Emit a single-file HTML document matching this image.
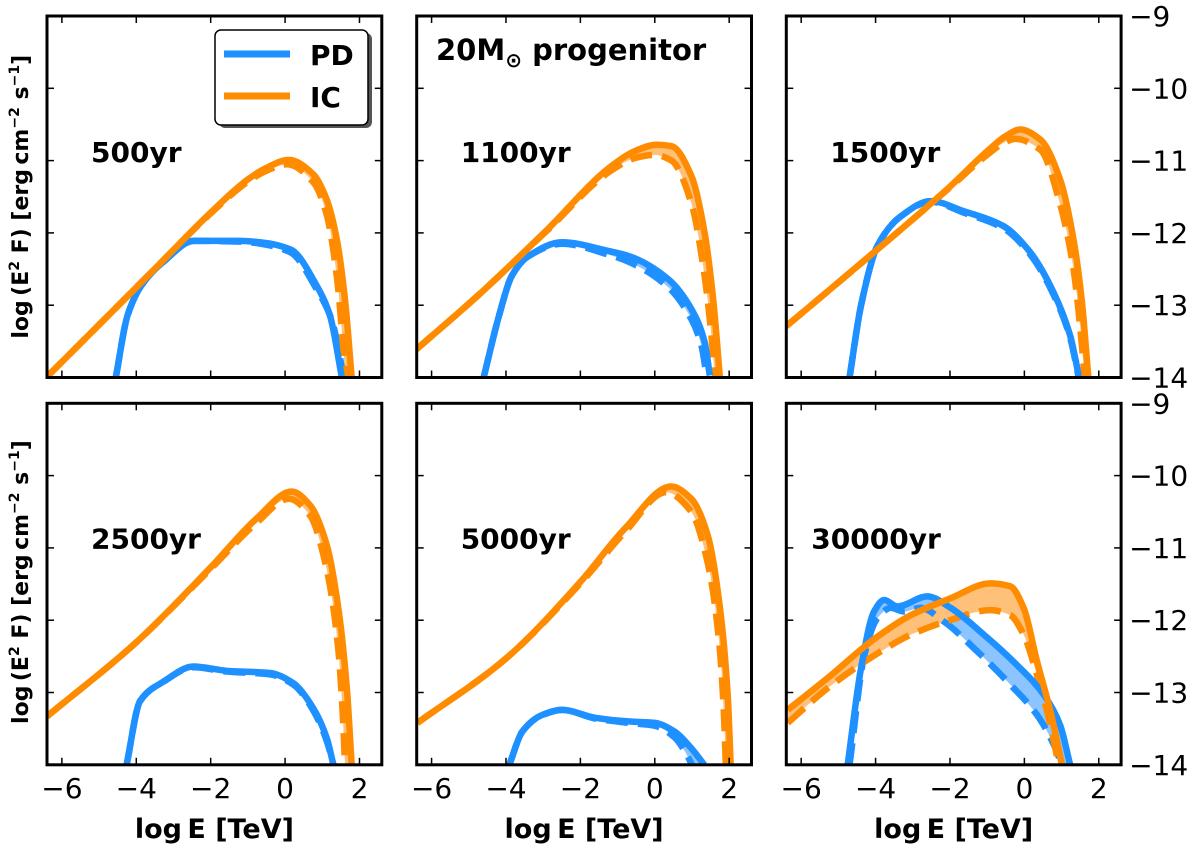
<!DOCTYPE html>
<html><head><meta charset="utf-8"><style>
html,body{margin:0;padding:0;background:#fff}
svg{display:block;font-family:"DejaVu Sans","Liberation Sans",sans-serif}
</style></head><body>
<svg id="fig" width="1200" height="847" viewBox="0 0 1200 847" xmlns="http://www.w3.org/2000/svg"></svg>
<script>
// ---- data (log E [TeV], log E^2F) ----
const xTicks = [-6, -4, -2, 0, 2];
const yTicks = [-9, -10, -11, -12, -13, -14];
const panelLabels = ["500yr", "1100yr", "1500yr", "2500yr", "5000yr", "30000yr"];

const p1_ic_x = [-6.4,-4.69,-3.43,-2.0,-1.0,-0.5,0.1,0.76,1.12,1.39,1.61,1.79];
const p1_ic_y = [-13.99,-13.11,-12.46,-11.72,-11.26,-11.1,-10.99,-11.19,-11.54,-12.09,-12.92,-14.0];
const p1_icd_x = [-6.4,-4.69,-3.43,-2.0,-1.0,-0.5,0.05,0.76,1.12,1.39,1.55,1.62];
const p1_icd_y = [-13.99,-13.11,-12.46,-11.73,-11.29,-11.14,-11.05,-11.3,-11.75,-12.6,-13.5,-14.0];
const p1_pd_x = [-4.55,-4.24,-3.88,-3.25,-2.45,-1.21,-0.65,0.15,0.85,1.21,1.52];
const p1_pd_y = [-14,-13.15,-12.74,-12.39,-12.11,-12.11,-12.13,-12.23,-12.73,-13.15,-13.98];
const p1_pdd_x = [-4.55,-4.24,-3.88,-3.25,-2.45,-1.21,-0.65,0.15,0.85,1.25,1.58];
const p1_pdd_y = [-14,-13.15,-12.74,-12.39,-12.11,-12.12,-12.15,-12.27,-12.78,-13.2,-14];

const p2_ic_x = [-6.43,-4.74,-2.94,-1.15,-0.5,0.05,0.45,0.99,1.34,1.57,1.75];
const p2_ic_y = [-13.62,-12.86,-11.98,-11.07,-10.86,-10.78,-10.8,-11.22,-12.0,-12.92,-14];
const p2_icd_x = [-6.43,-4.74,-2.94,-1.15,-0.5,0.0,0.45,0.99,1.34,1.5,1.62];
const p2_icd_y = [-13.62,-12.86,-11.99,-11.13,-10.96,-10.92,-11.0,-11.6,-12.6,-13.3,-14];
const p2_pd_x = [-4.6,-4.19,-3.84,-3.39,-2.49,-1.25,-0.7,0.36,0.99,1.34,1.48];
const p2_pd_y = [-14,-13.15,-12.59,-12.32,-12.13,-12.25,-12.32,-12.64,-13.06,-13.51,-13.97];
const p2_pdd_x = [-4.6,-4.19,-3.84,-3.39,-2.49,-1.25,-0.7,0.36,0.99,1.25,1.4];
const p2_pdd_y = [-14,-13.15,-12.59,-12.32,-12.15,-12.3,-12.4,-12.75,-13.2,-13.55,-14];

const p3_ic_x = [-6.4,-4.0,-2.0,-1.0,-0.5,-0.11,0.43,0.96,1.32,1.54,1.72];
const p3_ic_y = [-13.29,-12.25,-11.36,-10.87,-10.66,-10.57,-10.71,-11.26,-12.09,-12.92,-14];
const p3_icd_x = [-6.4,-4.0,-2.0,-1.0,-0.5,-0.25,0.43,0.96,1.32,1.5,1.62];
const p3_icd_y = [-13.29,-12.25,-11.37,-10.92,-10.74,-10.7,-10.85,-11.6,-12.5,-13.3,-14];
const p3_pd_x = [-4.7,-4.39,-3.95,-3.32,-2.52,-1.63,-0.55,0.16,0.79,1.23,1.46];
const p3_pd_y = [-14,-13.0,-12.18,-11.77,-11.56,-11.7,-11.91,-12.27,-12.83,-13.42,-13.97];
const p3_pdd_x = [-4.7,-4.39,-3.95,-3.32,-2.52,-1.63,-0.55,0.16,0.79,1.23,1.46];
const p3_pdd_y = [-14,-13.0,-12.18,-11.77,-11.57,-11.72,-11.94,-12.3,-12.86,-13.45,-14];

const p4_ic_x = [-6.4,-4.03,-2.02,-0.76,0.18,0.67,1.12,1.43,1.66,1.79];
const p4_ic_y = [-13.33,-12.32,-11.28,-10.59,-10.22,-10.41,-10.96,-11.83,-12.94,-14];
const p4_icd_x = [-6.4,-4.03,-2.02,-0.76,0.1,0.67,1.12,1.43,1.55,1.61];
const p4_icd_y = [-13.33,-12.32,-11.3,-10.65,-10.32,-10.55,-11.3,-12.4,-13.3,-14];
const p4_pd_x = [-4.26,-3.9,-3.27,-2.46,-1.57,-0.4,0.22,0.76,1.12,1.3];
const p4_pd_y = [-14,-13.12,-12.85,-12.64,-12.7,-12.73,-12.87,-13.22,-13.63,-14];
const p4_pdd_x = [-4.26,-3.9,-3.27,-2.46,-1.57,-0.4,0.22,0.76,1.12,1.3];
const p4_pdd_y = [-14,-13.12,-12.85,-12.65,-12.71,-12.75,-12.89,-13.25,-13.67,-14];

const p5_ic_x = [-6.38,-4,-2,-0.8,0.44,0.98,1.42,1.73,1.96,2.04];
const p5_ic_y = [-13.42,-12.53,-11.47,-10.73,-10.15,-10.32,-10.82,-11.74,-13.03,-14];
const p5_icd_x = [-6.38,-4,-2,-0.8,0.3,0.98,1.42,1.73,1.85,1.91];
const p5_icd_y = [-13.42,-12.53,-11.49,-10.78,-10.23,-10.5,-11.2,-12.3,-13.2,-14];
const p5_pd_x = [-3.91,-3.56,-3.02,-2.49,-1.6,-0.71,0,0.53,0.98,1.33];
const p5_pd_y = [-14,-13.54,-13.31,-13.24,-13.35,-13.4,-13.42,-13.54,-13.77,-14];
const p5_pdd_x = [-3.91,-3.56,-3.02,-2.49,-1.6,-0.71,0,0.53,0.85,1.0];
const p5_pdd_y = [-14,-13.54,-13.31,-13.24,-13.36,-13.42,-13.46,-13.62,-13.85,-14];

const p6_ic_x = [-6.36,-5.29,-4.01,-3.05,-2,-0.91,-0.38,-0.02,0.34,0.7,1.01];
const p6_ic_y = [-13.24,-12.8,-12.25,-11.93,-11.7,-11.49,-11.53,-11.83,-12.57,-13.26,-14];
const p6_icd_x = [-6.36,-5.29,-4.01,-3.05,-2,-0.91,-0.38,-0.02,0.34,0.7,0.92];
const p6_icd_y = [-13.42,-12.94,-12.48,-12.2,-12.0,-11.86,-11.93,-12.2,-12.76,-13.45,-14];
const p6_pd_x = [-4.75,-4.39,-4.04,-3.77,-3.41,-2.61,-1.98,-1.09,-0.2,0.52,0.96,1.23];
const p6_pd_y = [-14,-12.66,-11.88,-11.72,-11.81,-11.67,-11.83,-12.2,-12.62,-13.03,-13.45,-14];
const p6_pdd_x = [-4.7,-4.3,-3.95,-3.59,-3.23,-2.79,-2.16,-1.27,-0.38,0.34,0.79,1.01];
const p6_pdd_y = [-14,-12.48,-11.97,-11.83,-11.88,-11.83,-12.02,-12.43,-12.89,-13.31,-13.72,-14];

const panels = [
  {ic:[p1_ic_x,p1_ic_y], icd:[p1_icd_x,p1_icd_y], pd:[p1_pd_x,p1_pd_y], pdd:[p1_pdd_x,p1_pdd_y]},
  {ic:[p2_ic_x,p2_ic_y], icd:[p2_icd_x,p2_icd_y], pd:[p2_pd_x,p2_pd_y], pdd:[p2_pdd_x,p2_pdd_y]},
  {ic:[p3_ic_x,p3_ic_y], icd:[p3_icd_x,p3_icd_y], pd:[p3_pd_x,p3_pd_y], pdd:[p3_pdd_x,p3_pdd_y]},
  {ic:[p4_ic_x,p4_ic_y], icd:[p4_icd_x,p4_icd_y], pd:[p4_pd_x,p4_pd_y], pdd:[p4_pdd_x,p4_pdd_y]},
  {ic:[p5_ic_x,p5_ic_y], icd:[p5_icd_x,p5_icd_y], pd:[p5_pd_x,p5_pd_y], pdd:[p5_pdd_x,p5_pdd_y]},
  {ic:[p6_ic_x,p6_ic_y], icd:[p6_icd_x,p6_icd_y], pd:[p6_pd_x,p6_pd_y], pdd:[p6_pdd_x,p6_pdd_y]}
];

// ---- layout ----
const NS = "http://www.w3.org/2000/svg";
const svg = document.getElementById("fig");
const XMIN = -6.4, XMAX = 2.6, YMAX = -9, YMIN = -14;
const colLeft = [47, 416.7, 786.3];
const rowTop = [16, 403.3];
const PW = 334.8, PH = 361.5;
const BLUE = "#1e90ff", ORANGE = "#ff8c00", LBLUE = "#8cc4ff", LORANGE = "#ffc07a";

function el(tag, attrs, parent) {
  const e = document.createElementNS(NS, tag);
  for (const k in attrs) e.setAttribute(k, attrs[k]);
  (parent || svg).appendChild(e);
  return e;
}
function smoothPath(pts) {
  const n = pts.length;
  if (n < 2) return "";
  const dx = [], s = [];
  for (let i = 0; i < n - 1; i++) {
    dx.push(pts[i + 1][0] - pts[i][0]);
    s.push((pts[i + 1][1] - pts[i][1]) / (dx[i] || 1e-6));
  }
  const m = new Array(n);
  m[0] = s[0]; m[n - 1] = s[n - 2];
  for (let i = 1; i < n - 1; i++) {
    if (s[i - 1] * s[i] <= 0) m[i] = 0;
    else {
      const w1 = 2 * dx[i] + dx[i - 1], w2 = dx[i] + 2 * dx[i - 1];
      m[i] = (w1 + w2) / (w1 / s[i - 1] + w2 / s[i]);
    }
  }
  let d = "M" + pts[0][0].toFixed(2) + "," + pts[0][1].toFixed(2);
  for (let i = 0; i < n - 1; i++) {
    const h = dx[i] / 3;
    d += "C" + (pts[i][0] + h).toFixed(2) + "," + (pts[i][1] + m[i] * h).toFixed(2) + " " +
      (pts[i + 1][0] - h).toFixed(2) + "," + (pts[i + 1][1] - m[i + 1] * h).toFixed(2) + " " +
      pts[i + 1][0].toFixed(2) + "," + pts[i + 1][1].toFixed(2);
  }
  return d;
}

panels.forEach((p, i) => {
  const col = i % 3, row = Math.floor(i / 3);
  const L = colLeft[col], T = rowTop[row];
  const sx = v => L + (v - XMIN) / (XMAX - XMIN) * PW;
  const sy = v => T + (YMAX - v) / (YMAX - YMIN) * PH;
  const toPts = s => s[0].map((x, k) => [sx(x), sy(s[1][k])]);

  const g = el("g", {});
  
  
  const clip = el("clipPath", {id: "clip" + i}, g);
  el("rect", {x: L, y: T, width: PW, height: PH}, clip);
  const plot = el("g", {"clip-path": "url(#clip" + i + ")"}, g);

  const band = (a, b, fill, name) => {
    const pa = toPts(a), pb = toPts(b).reverse();
    const d = smoothPath(pa) + smoothPath(pb).replace(/^M/, "L") + "Z";
    const e = el("path", {d: d, fill: fill, stroke: "none"}, plot);
    
    
  };
  band(p.pd, p.pdd, LBLUE, 'pd-band');
  band(p.ic, p.icd, LORANGE, 'ic-band');

  const line = (s, color, dashed, name) => {
    const e = el("path", {d: smoothPath(toPts(s)), fill: "none", stroke: color, "stroke-width": 6.5,
      "stroke-linejoin": "round", "stroke-dasharray": dashed ? "22 10" : "none"}, plot);
    
    
  };
  line(p.pdd, BLUE, true, 'pd-dashed-line');
  line(p.icd, ORANGE, true, 'ic-dashed-line');
  line(p.pd, BLUE, false, 'pd-solid-line');
  line(p.ic, ORANGE, false, 'ic-solid-line');

  xTicks.forEach(t => {
    const x = sx(t);
    el("line", {x1: x, x2: x, y1: T + PH, y2: T + PH - 7, stroke: "#000", "stroke-width": 1.5}, g);
    el("line", {x1: x, x2: x, y1: T, y2: T + 7, stroke: "#000", "stroke-width": 1.5}, g);
    if (row === 1) {
      const tl = el("text", {x: x, y: 798, "font-size": 28, "text-anchor": "middle", fill: "#000"}, g);
      tl.textContent = (t < 0 ? "\u2212" : "") + Math.abs(t);
      
      
    }
  });
  yTicks.forEach(t => {
    const y = sy(t);
    el("line", {x1: L, x2: L + 7, y1: y, y2: y, stroke: "#000", "stroke-width": 1.5}, g);
    el("line", {x1: L + PW, x2: L + PW - 7, y1: y, y2: y, stroke: "#000", "stroke-width": 1.5}, g);
    if (col === 2) {
      const tl = el("text", {x: L + PW + 8, y: y + 10, "font-size": 28, fill: "#000"}, g);
      tl.textContent = "\u2212" + Math.abs(t);
      
      
    }
  });
  const fr = el("rect", {x: L, y: T, width: PW, height: PH, fill: "none", stroke: "#000", "stroke-width": 3}, g);
  
  

  const lab = el("text", {x: L + (col === 2 && row === 1 ? 25 : 44), y: T + (row === 0 ? 146 : 145), "font-size": 28, "font-weight": "bold", fill: "#000"}, g);
  lab.textContent = panelLabels[i];
  
  

  if (row === 1) {
    const xt = el("text", {x: L + PW / 2, y: 838, "font-size": 27, "font-weight": "bold", "text-anchor": "middle", fill: "#000"}, g);
    xt.textContent = "log\u2009E  [TeV]";
    
    
  }
  if (col === 0) {
    const cy = T + PH / 2 + (row === 0 ? 0 : -2);
    const yt = el("text", {x: 0, y: 0, transform: "translate(28," + cy + ") rotate(-90)", "font-size": 22, "font-weight": "bold", "text-anchor": "middle", fill: "#000"}, g);
    yt.innerHTML = 'log\u2009(E<tspan dy="-9" font-size="14">2</tspan><tspan dy="9"> F)  [erg\u2009cm</tspan><tspan dy="-9" font-size="14">\u22122</tspan><tspan dy="9"> s</tspan><tspan dy="-9" font-size="14">\u22121</tspan><tspan dy="9">]</tspan>';
    
    
  }
});

const prog = el("text", {x: 436, y: 60, "font-size": 29, "font-weight": "bold", fill: "#000"});
prog.innerHTML = '20M<tspan dy="7" font-size="20">\u2299</tspan><tspan dy="-7"> progenitor</tspan>';



const lg = el("g", {});


el("rect", {x: 219, y: 33, width: 153, height: 95, rx: 6, fill: "#555", stroke: "none"}, lg);
el("rect", {x: 215, y: 30, width: 153, height: 95, rx: 6, fill: "#fff", stroke: "#000", "stroke-width": 1.5}, lg);
el("line", {x1: 224, x2: 290, y1: 54, y2: 54, stroke: BLUE, "stroke-width": 7}, lg);
el("line", {x1: 224, x2: 290, y1: 96, y2: 96, stroke: ORANGE, "stroke-width": 7}, lg);
const t1 = el("text", {x: 310, y: 65, "font-size": 28, "font-weight": "bold"}, lg);
t1.textContent = "PD";


const t2 = el("text", {x: 310, y: 107, "font-size": 28, "font-weight": "bold"}, lg);
t2.textContent = "IC";


</script>
</body></html>
